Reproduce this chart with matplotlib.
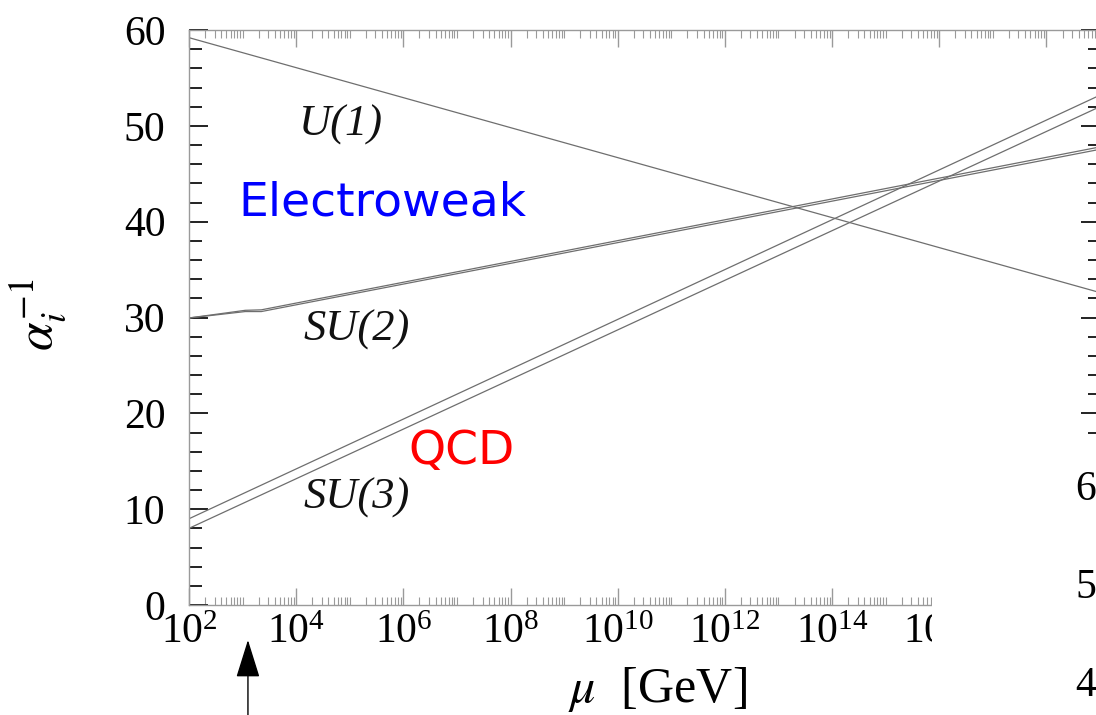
import numpy as np
import matplotlib
matplotlib.use("Agg")
import matplotlib.pyplot as plt
from matplotlib.ticker import FixedLocator, LogLocator, LogFormatterSciNotation, NullFormatter
from matplotlib.patches import Rectangle

plt.rcParams['font.family'] = 'serif'
plt.rcParams['font.serif'] = ['Liberation Serif', 'DejaVu Serif']
plt.rcParams['mathtext.fontset'] = 'stix'

# running inverse couplings vs scale (log10 of mu in GeV)
log_mu = [2.0, 19.0]
u1 = [59.2, 32.6]
su3_hi = [9.0, 53.2]
su3_lo = [8.0, 52.0]

log_mu_su2 = [2.0, 3.05, 3.35, 19.0]
su2_hi = [29.95, 30.75, 30.8, 47.8]
su2_lo = [29.95, 30.62, 30.62, 47.55]

arrow_log_mu = 3.1
x_major = [2, 4, 6, 8, 10, 12, 14, 16, 18]
y_major = [0, 10, 20, 30, 40, 50, 60]
side_digits = ['6', '5', '4']

W, H = 1096, 715
fig = plt.figure(figsize=(W / 100, H / 100), dpi=100)
ax = fig.add_axes([189 / W, 110 / H, 911 / W, 575 / H])

mu = 10 ** np.array(log_mu)
mu2 = 10 ** np.array(log_mu_su2)
line_kw = dict(color='#6e6e6e', lw=0.9, solid_capstyle='butt')
ax.plot(mu, u1, **line_kw)
ax.plot(mu2, su2_hi, **line_kw)
ax.plot(mu2, su2_lo, **line_kw)
ax.plot(mu, su3_hi, **line_kw)
ax.plot(mu, su3_lo, **line_kw)

ax.set_xscale('log')
ax.set_xlim(1e2, 1e19)
ax.set_ylim(0, 60)

ax.xaxis.set_major_locator(FixedLocator([10.0 ** p for p in x_major]))
ax.xaxis.set_major_formatter(LogFormatterSciNotation())
ax.xaxis.set_minor_locator(LogLocator(base=10, subs=np.arange(1, 10), numticks=200))
ax.xaxis.set_minor_formatter(NullFormatter())
ax.set_yticks(y_major)
ax.set_yticks(np.arange(0, 61, 2), minor=True)

ax.tick_params(axis='y', which='both', direction='in', left=True, right=True,
               colors='#222222', labelsize=30, pad=17, labelcolor='black')
ax.tick_params(axis='y', which='major', length=14, width=1.4)
ax.tick_params(axis='y', which='minor', length=9, width=1.4)
ax.tick_params(axis='x', which='both', direction='in', top=True, bottom=True,
               colors='#9a9a9a', labelsize=30, pad=6, labelcolor='black')
ax.tick_params(axis='x', which='major', length=12, width=1.0)
ax.tick_params(axis='x', which='minor', length=6, width=0.8)

for side in ['left', 'top', 'bottom']:
    ax.spines[side].set_color('#9a9a9a')
    ax.spines[side].set_linewidth(1.0)
ax.spines['right'].set_visible(False)

lab = dict(fontsize=32, style='italic', ha='center', va='center', color='#111111')
ax.text(10 ** 4.84, 50.1, 'U(1)', **lab)
ax.text(10 ** 5.13, 28.7, 'SU(2)', **lab)
ax.text(10 ** 5.13, 11.2, 'SU(3)', **lab)
ax.text(10 ** 5.60, 41.9, 'Electroweak', fontsize=34, family='DejaVu Sans',
        color='#0000ff', ha='center', va='center')
ax.text(10 ** 7.09, 16.0, 'QCD', fontsize=34, family='DejaVu Sans',
        color='#ff0000', ha='center', va='center')

fig.text(38 / W, (H - 315) / H, r'$\alpha_i^{\mathit{-1}}$', rotation=90, fontsize=37,
         ha='center', va='center')
fig.text(657 / W, (H - 690) / H, r'$\mu$  [GeV]', fontsize=36,
         ha='center', va='center')

ax.annotate('', xy=(10 ** arrow_log_mu, H - 640), xycoords=('data', 'figure pixels'),
            xytext=(10 ** arrow_log_mu, 0), textcoords=('data', 'figure pixels'),
            arrowprops=dict(arrowstyle='-|>,head_length=2.4,head_width=0.75',
                            mutation_scale=10, color='black', lw=1.0,
                            shrinkA=0, shrinkB=0),
            annotation_clip=False)

# white block over lower-right corner of the scan
fig.add_artist(Rectangle((932 / W, 0), 1 - 932 / W, (H - 442) / H,
                         transform=fig.transFigure, facecolor='white',
                         edgecolor='none', zorder=10))
for d, ypx in zip(side_digits, [490, 588, 686]):
    fig.text(1075 / W, (H - ypx) / H, d, fontsize=30, ha='left', va='center',
             zorder=11)

fig.savefig('out.png', dpi=100)
